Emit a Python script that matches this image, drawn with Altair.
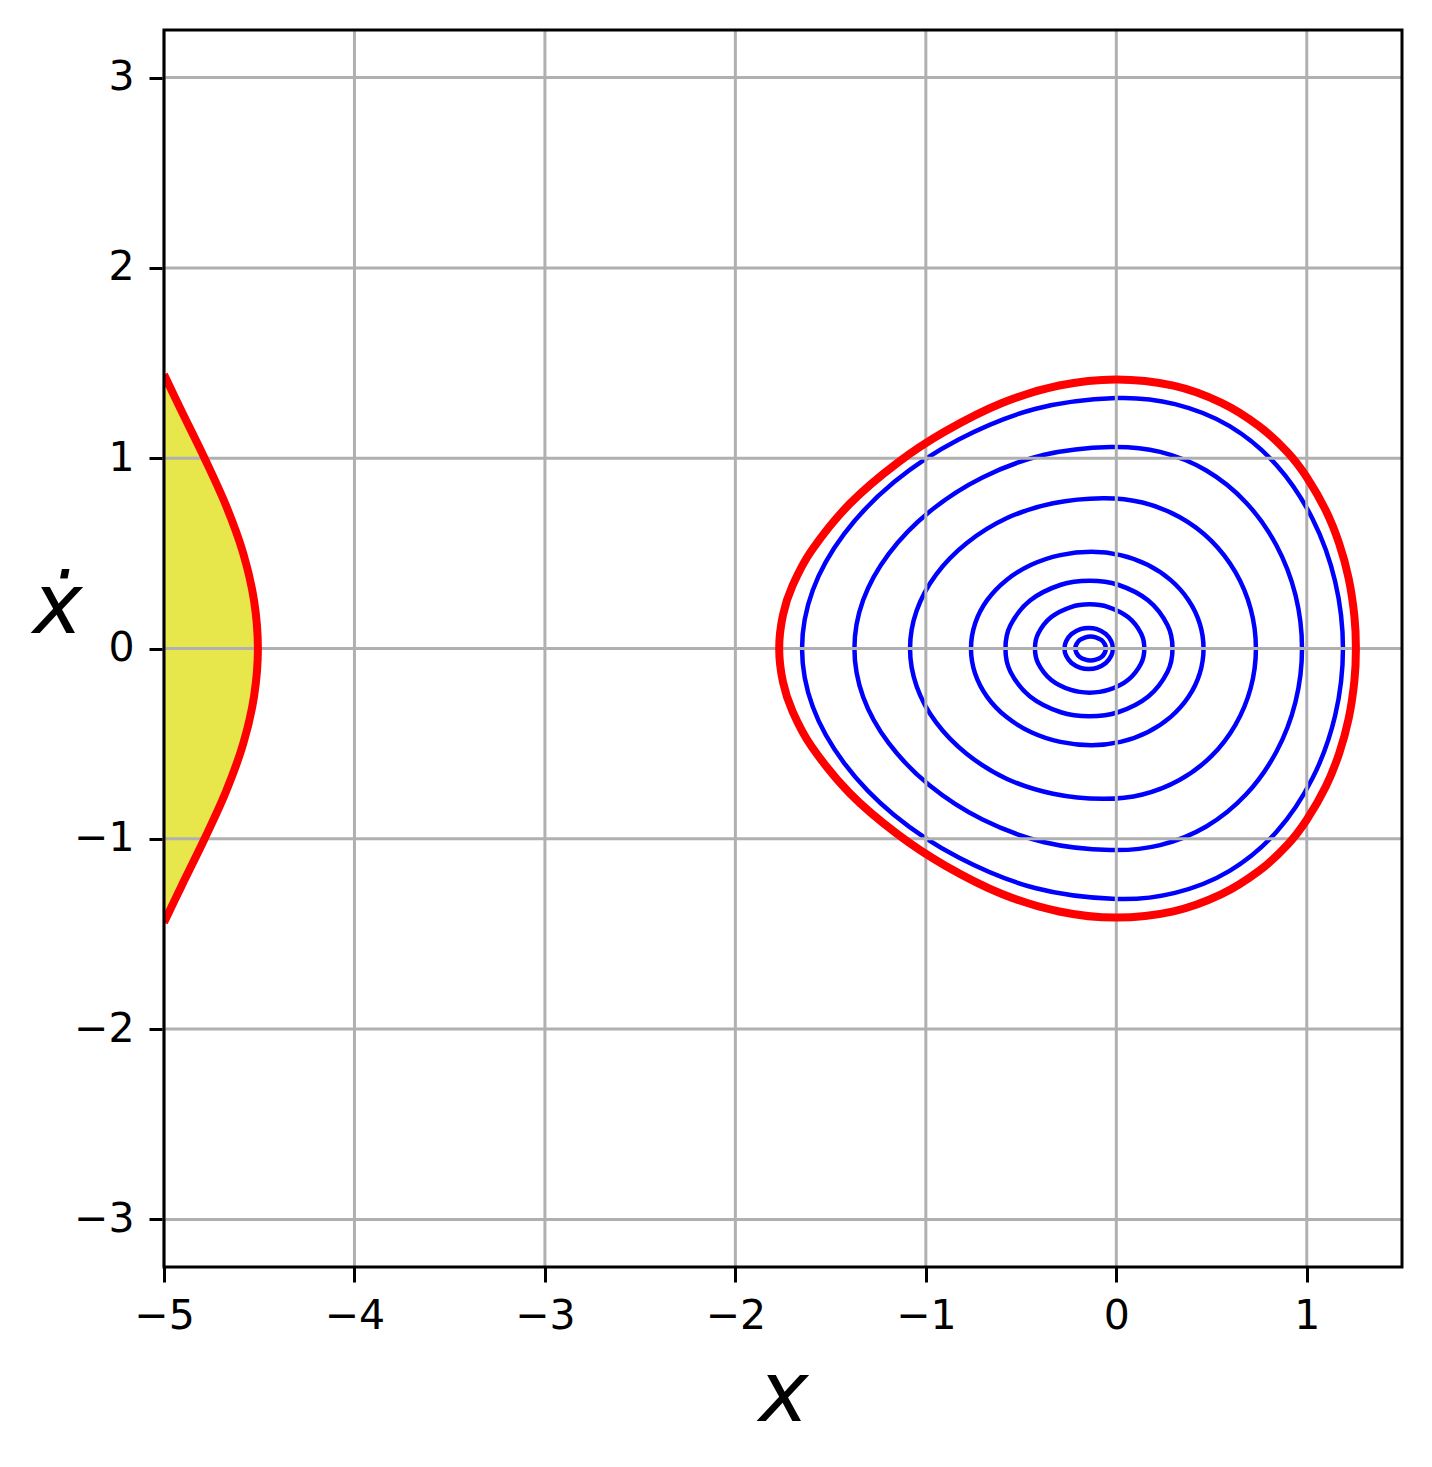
import altair as alt
import pandas as pd

# ---- values ----
X_TICKS = [-5, -4, -3, -2, -1, 0, 1]
Y_TICKS = [-3, -2, -1, 0, 1, 2, 3]

# red closed boundary around the origin
RED_X = [1.258, 1.25, 1.22, 1.17, 1.10, 1.0, 0.9, 0.75, 0.55, 0.3, 0.0, -0.3, -0.6, -0.9, -1.15, -1.4, -1.6, -1.7, -1.75, -1.77,
         -1.75, -1.7, -1.6, -1.4, -1.15, -0.9, -0.6, -0.3, 0.0, 0.3, 0.55, 0.75, 0.9, 1.0, 1.10, 1.17, 1.22, 1.25]
RED_Y = [0.0, 0.17, 0.368, 0.552, 0.725, 0.90, 1.03, 1.168, 1.292, 1.381, 1.414, 1.382, 1.29, 1.14, 0.975, 0.76, 0.515, 0.33, 0.177, 0.0,
         -0.177, -0.33, -0.515, -0.76, -0.975, -1.14, -1.29, -1.382, -1.414, -1.381, -1.292, -1.168, -1.03, -0.90, -0.725, -0.552, -0.368, -0.17]

# red boundary of the yellow region at the left edge
LEFT_X = [-5.0, -4.909, -4.787, -4.674, -4.584, -4.527, -4.507, -4.527, -4.584, -4.674, -4.787, -4.909, -5.0]
LEFT_Y = [1.44, 1.25, 1.0, 0.75, 0.5, 0.25, 0.0, -0.25, -0.5, -0.75, -1.0, -1.25, -1.44]

# blue trajectories, outermost to innermost
B1_X = [1.19, 1.149, 1.0305, 0.8415, 0.595, 0.308, 0.0, -0.427, -0.825, -1.1667, -1.4289, -1.5937, -1.65,
        -1.5937, -1.4289, -1.1667, -0.825, -0.427, 0.0, 0.308, 0.595, 0.8415, 1.0305, 1.149]
B1_Y = [0.0, 0.3525, 0.681, 0.9632, 1.1682, 1.2838, 1.316, 1.2584, 1.0998, 0.8748, 0.6021, 0.3065, 0.0,
        -0.3065, -0.6021, -0.8748, -1.0998, -1.2584, -1.316, -1.2838, -1.1682, -0.9632, -0.681, -0.3525]
B2_X = [0.975, 0.9407, 0.8403, 0.6806, 0.4725, 0.2301, -0.03, -0.3781, -0.7025, -0.9811, -1.1948, -1.3291, -1.375,
        -1.3291, -1.1948, -0.9811, -0.7025, -0.3781, -0.03, 0.2301, 0.4725, 0.6806, 0.8403, 0.9407]
B2_Y = [0.0, 0.2809, 0.5427, 0.7676, 0.9354, 1.0331, 1.059, 1.0178, 0.8988, 0.7188, 0.4977, 0.2549, 0.0,
        -0.2549, -0.4977, -0.7188, -0.8988, -1.0178, -1.059, -1.0331, -0.9354, -0.7676, -0.5427, -0.2809]
B3_X = [0.733, 0.7056, 0.6254, 0.4978, 0.3315, 0.1378, -0.07, -0.3322, -0.5765, -0.7863, -0.9473, -1.0485, -1.083,
        -1.0485, -0.9473, -0.7863, -0.5765, -0.3322, -0.07, 0.1378, 0.3315, 0.4978, 0.6254, 0.7056]
B3_Y = [0.0, 0.2075, 0.4009, 0.567, 0.691, 0.7669, 0.79, 0.7631, 0.6841, 0.553, 0.3871, 0.1983, 0.0,
        -0.1983, -0.3871, -0.553, -0.6841, -0.7631, -0.79, -0.7669, -0.691, -0.567, -0.4009, -0.2075]
B4_X = [0.458, 0.438, 0.3792, 0.2858, 0.164, 0.0222, -0.13, -0.2938, -0.4465, -0.5776, -0.6782, -0.7414, -0.763,
        -0.7414, -0.6782, -0.5776, -0.4465, -0.2938, -0.13, 0.0222, 0.164, 0.2858, 0.3792, 0.438]
B4_Y = [0.0, 0.1315, 0.254, 0.3592, 0.4399, 0.4907, 0.508, 0.4907, 0.4399, 0.3592, 0.254, 0.1315, 0.0,
        -0.1315, -0.254, -0.3592, -0.4399, -0.4907, -0.508, -0.4907, -0.4399, -0.3592, -0.254, -0.1315]
B5_X = [0.295, 0.269, 0.168, 0.009, -0.14, -0.291, -0.453, -0.556, -0.582, -0.556, -0.453, -0.291, -0.14, 0.009, 0.168, 0.269]
B5_Y = [0.0, 0.122, 0.252, 0.335, 0.356, 0.335, 0.252, 0.122, 0.0, -0.122, -0.252, -0.335, -0.356, -0.335, -0.252, -0.122]
B6_X = [0.147, 0.13, 0.063, -0.042, -0.14, -0.238, -0.343, -0.41, -0.427, -0.41, -0.343, -0.238, -0.14, -0.042, 0.063, 0.13]
B6_Y = [0.0, 0.079, 0.164, 0.218, 0.232, 0.218, 0.164, 0.079, 0.0, -0.079, -0.164, -0.218, -0.232, -0.218, -0.164, -0.079]
B7_X = [-0.018, -0.026, -0.055, -0.102, -0.145, -0.188, -0.235, -0.264, -0.272, -0.264, -0.235, -0.188, -0.145, -0.102, -0.055, -0.026]
B7_Y = [0.0, 0.037, 0.076, 0.1015, 0.108, 0.1015, 0.076, 0.037, 0.0, -0.037, -0.076, -0.1015, -0.108, -0.1015, -0.076, -0.037]
B8_X = [-0.055, -0.06, -0.078, -0.108, -0.135, -0.162, -0.192, -0.21, -0.215, -0.21, -0.192, -0.162, -0.135, -0.108, -0.078, -0.06]
B8_Y = [0.0, 0.0215, 0.0445, 0.059, 0.063, 0.059, 0.0445, 0.0215, 0.0, -0.0215, -0.0445, -0.059, -0.063, -0.059, -0.0445, -0.0215]

# ---- tables ----
def curve_rows(name, xs, ys):
    return [{"curve": name, "i": i, "x": x, "y": y} for i, (x, y) in enumerate(zip(xs, ys))]

blue_rows = []
for nm, xs, ys in [("b1", B1_X, B1_Y), ("b2", B2_X, B2_Y), ("b3", B3_X, B3_Y), ("b4", B4_X, B4_Y),
                   ("b5", B5_X, B5_Y), ("b6", B6_X, B6_Y), ("b7", B7_X, B7_Y), ("b8", B8_X, B8_Y)]:
    blue_rows += curve_rows(nm, xs, ys)
blue_df = pd.DataFrame(blue_rows)
red_df = pd.DataFrame(curve_rows("red", RED_X, RED_Y))
left_df = pd.DataFrame(curve_rows("left", LEFT_X, LEFT_Y))
left_df["x0"] = X_TICKS[0]
xgrid_df = pd.DataFrame({"v": X_TICKS})
ygrid_df = pd.DataFrame({"v": Y_TICKS})
frame_df = pd.DataFrame({"k": [0]})

W, H = 1238, 1237
FONT = "DejaVu Sans"

XS = alt.Scale(domain=[-5, 1.5], nice=False, zero=False)
YS = alt.Scale(domain=[-3.25, 3.25], nice=False, zero=False)

XA = alt.Axis(values=X_TICKS, format="d", grid=False, domain=False, ticks=True, tickColor="black",
              tickWidth=3, tickSize=15, labelFont=FONT, labelFontSize=41, labelColor="black",
              labelPadding=14, labelFlush=False, labelOverlap=False,
              title="x", titleFont=FONT, titleFontSize=84, titleFontStyle="italic",
              titleFontWeight="normal", titleColor="black", titleX=619, titleY=153,
              titleAlign="center", titleBaseline="alphabetic")
YA = alt.Axis(values=Y_TICKS, format="d", grid=False, domain=False, ticks=True, tickColor="black",
              tickWidth=3, tickSize=15, labelFont=FONT, labelFontSize=41, labelColor="black",
              labelPadding=15, labelFlush=False, labelOverlap=False,
              title="ẋ", titleFont=FONT, titleFontSize=84, titleFontStyle="italic",
              titleFontWeight="normal", titleColor="black", titleAngle=0, titleX=-107, titleY=602,
              titleAlign="center", titleBaseline="alphabetic")


def X(f):
    return alt.X(f, type="quantitative", scale=XS, axis=XA)


def Y(f):
    return alt.Y(f, type="quantitative", scale=YS, axis=YA)


fill = alt.Chart(left_df).mark_area(orient="horizontal", interpolate="cardinal", tension=0,
                                    color="#e7e64a", clip=True).encode(y=Y("y"), x=X("x"), x2=alt.X2("x0"))

blue = alt.Chart(blue_df).mark_line(interpolate="cardinal-closed", tension=0, color="#0000ff",
                                    strokeWidth=4.5, clip=True).encode(
    x=X("x"), y=Y("y"), detail="curve:N", order="i:Q")

xgrid = alt.Chart(xgrid_df).mark_rule(color="#b0b0b0", strokeWidth=3).encode(x=X("v"))
ygrid = alt.Chart(ygrid_df).mark_rule(color="#b0b0b0", strokeWidth=3).encode(y=Y("v"))

red = alt.Chart(red_df).mark_line(interpolate="cardinal-closed", tension=0, color="#ff0000",
                                  strokeWidth=8, clip=True).encode(x=X("x"), y=Y("y"), order="i:Q")
red_left = alt.Chart(left_df).mark_line(interpolate="cardinal", tension=0, color="#ff0000",
                                        strokeWidth=8, clip=True).encode(x=X("x"), y=Y("y"), order="i:Q")

frame = alt.Chart(frame_df).mark_rect(fillOpacity=0, stroke="black", strokeWidth=3).encode(
    x=alt.value(0), x2=alt.value(W), y=alt.value(0), y2=alt.value(H))

chart = alt.layer(fill, blue, xgrid, ygrid, red, red_left, frame).properties(
    width=W, height=H,
    padding={"left": 156, "top": 22, "right": 12, "bottom": 180},
    autosize=alt.AutoSizeParams(type="none"),
).configure_view(strokeWidth=0).configure(background="white")

chart.save("out.html", embed_options={"renderer": "svg", "actions": False})
